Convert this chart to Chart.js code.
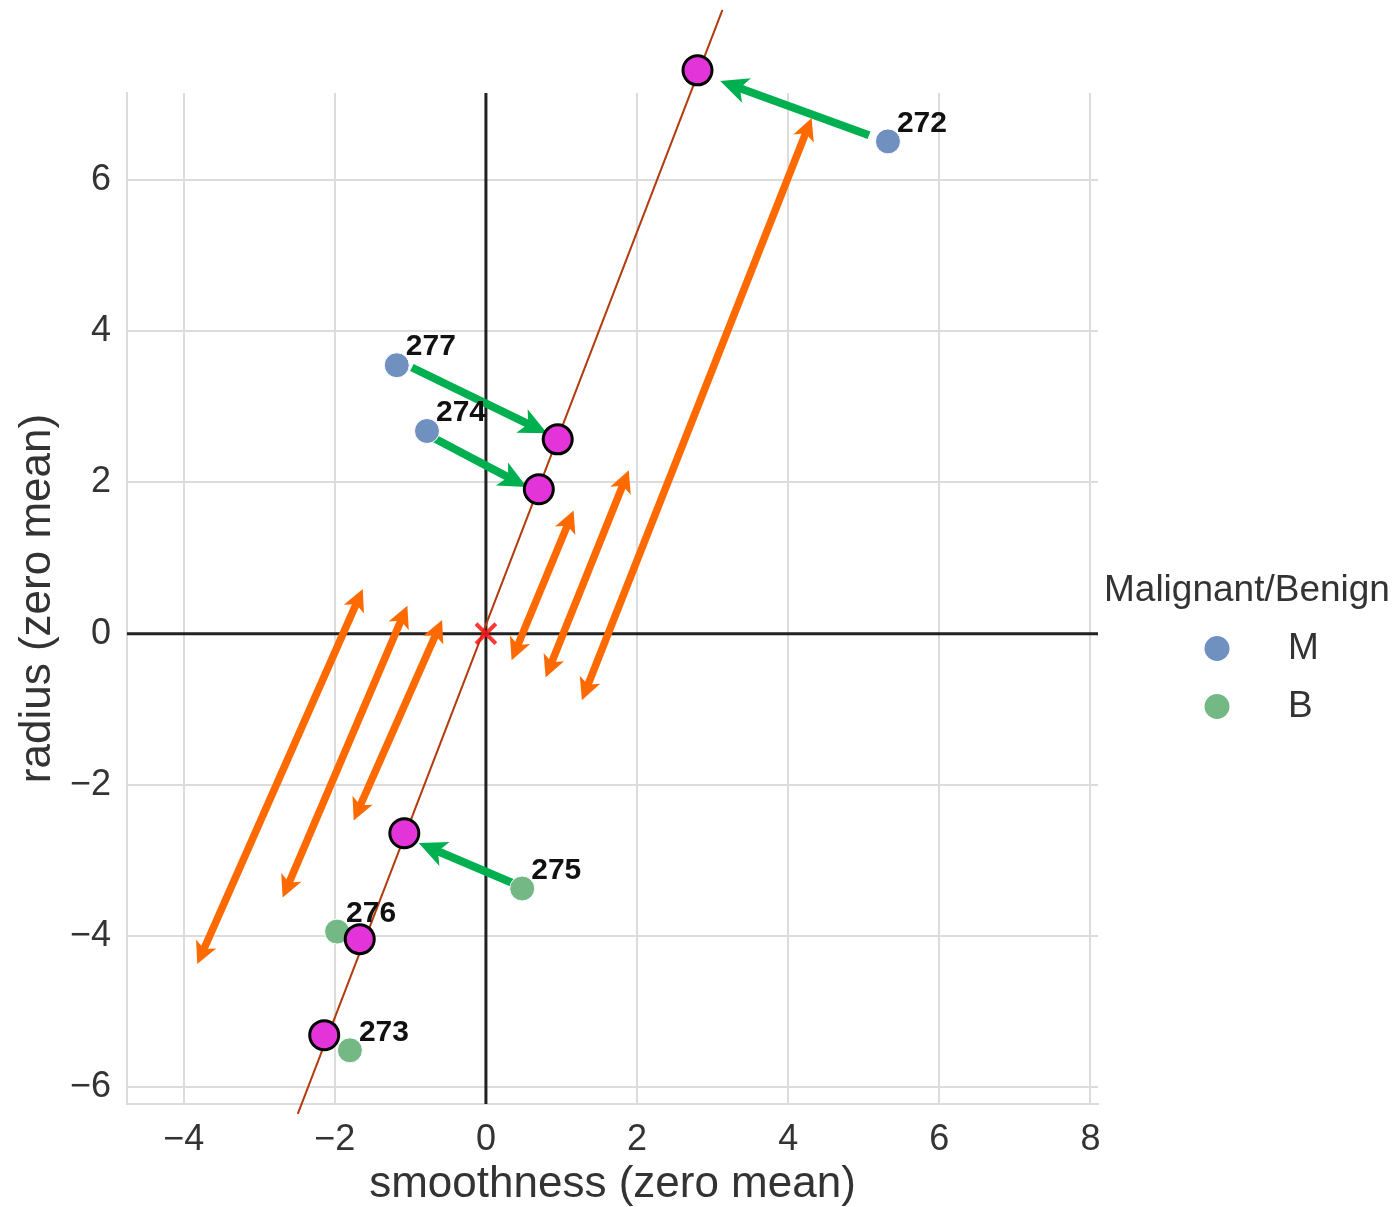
<!DOCTYPE html>
<html>
<head>
<meta charset="utf-8">
<script src="https://cdn.jsdelivr.net/npm/chart.js@4.4.1/dist/chart.umd.min.js"></script>
<style>
  html, body { margin: 0; padding: 0; background: #fff; }
  #wrap { width: 1395px; height: 1207px; }
</style>
</head>
<body>
<div id="wrap"><canvas id="chart" width="1395" height="1207"></canvas></div>
<script>
// samples, zero-mean smoothness vs radius
const ids = [272, 273, 274, 275, 276, 277];
const diagnosis = ['M', 'B', 'M', 'B', 'B', 'M'];
const smoothX = [5.32, -1.80, -0.78, 0.48, -1.97, -1.18];
const radiusY = [6.51, -5.51, 2.68, -3.37, -3.94, 3.55];

// projections onto the principal line
const projX = [2.80, -2.14, 0.70, -1.08, -1.67, 0.95];
const projY = [7.45, -5.31, 1.91, -2.64, -4.04, 2.57];

// principal line ends
const lineX = [-2.49, 3.13];
const lineY = [-6.35, 8.25];

// green arrows (sample -> projection)
const moveFromX = [5.07, -0.98, -0.81, 0.36];
const moveFromY = [6.59, 3.52, 2.65, -3.30];
const moveToX = [3.10, 0.81, 0.54, -0.89];
const moveToY = [7.31, 2.65, 1.94, -2.77];

// orange double arrows
const spreadFromX = [-3.82, -2.69, -1.75, 0.34, 0.79, 1.27];
const spreadFromY = [-4.37, -3.49, -2.47, -0.35, -0.58, -0.88];
const spreadToX = [-1.63, -1.04, -0.58, 1.16, 1.89, 4.31];
const spreadToY = [0.59, 0.37, 0.18, 1.63, 2.16, 6.82];

// axes
const xTicks = [-4, -2, 0, 2, 4, 6, 8];
const yTicks = [-6, -4, -2, 0, 2, 4, 6];
const xRange = [-4.75, 8.1];
const yRange = [-6.22, 7.15];

const FONT = '"Liberation Sans", Arial, sans-serif';
const colM = '#7090c0';
const colB = '#74b886';

const fmt = v => (v < 0 ? '\u2212' + Math.abs(v) : '' + v);

function drawArrow(ctx, x1, y1, x2, y2, color, width, headLen, headHalf, both) {
  const ang = Math.atan2(y2 - y1, x2 - x1);
  const head = (tx, ty, a) => {
    const c = Math.cos(a), s = Math.sin(a);
    ctx.beginPath();
    ctx.moveTo(tx, ty);
    ctx.lineTo(tx - headLen * c + headHalf * s, ty - headLen * s - headHalf * c);
    ctx.lineTo(tx - headLen * 0.75 * c, ty - headLen * 0.75 * s);
    ctx.lineTo(tx - headLen * c - headHalf * s, ty - headLen * s + headHalf * c);
    ctx.closePath();
    ctx.fill();
  };
  const cs = Math.cos(ang), sn = Math.sin(ang);
  const sx = both ? x1 + headLen * 0.7 * cs : x1;
  const sy = both ? y1 + headLen * 0.7 * sn : y1;
  ctx.save();
  ctx.strokeStyle = color;
  ctx.fillStyle = color;
  ctx.lineWidth = width;
  ctx.beginPath();
  ctx.moveTo(sx, sy);
  ctx.lineTo(x2 - headLen * 0.7 * cs, y2 - headLen * 0.7 * sn);
  ctx.stroke();
  head(x2, y2, ang);
  if (both) head(x1, y1, ang + Math.PI);
  ctx.restore();
}

const underlay = {
  id: 'underlay',
  beforeDatasetsDraw(chart) {
    const { ctx, chartArea: ca, scales: { x, y } } = chart;
    // zero lines
    ctx.save();
    ctx.strokeStyle = '#222';
    ctx.lineWidth = 3;
    ctx.beginPath();
    ctx.moveTo(ca.left, y.getPixelForValue(0));
    ctx.lineTo(ca.right, y.getPixelForValue(0));
    ctx.moveTo(x.getPixelForValue(0), ca.top);
    ctx.lineTo(x.getPixelForValue(0), ca.bottom);
    ctx.stroke();
    ctx.restore();

    spreadFromX.forEach((v, i) => {
      drawArrow(ctx,
        x.getPixelForValue(v), y.getPixelForValue(spreadFromY[i]),
        x.getPixelForValue(spreadToX[i]), y.getPixelForValue(spreadToY[i]),
        '#ff6a00', 7.5, 22, 11, true);
    });
    moveFromX.forEach((v, i) => {
      drawArrow(ctx,
        x.getPixelForValue(v), y.getPixelForValue(moveFromY[i]),
        x.getPixelForValue(moveToX[i]), y.getPixelForValue(moveToY[i]),
        '#00b050', 8, 28, 13, false);
    });
  }
};

const overlay = {
  id: 'overlay',
  afterDatasetsDraw(chart) {
    const { ctx, chartArea: ca, scales: { x, y } } = chart;

    // projected points that fall above the plot area
    chart.getDatasetMeta(1).data.forEach(el => {
      if (el.y < ca.top || el.y > ca.bottom) el.draw(ctx);
    });

    ctx.save();
    ctx.fillStyle = '#111';
    ctx.font = 'bold 30px ' + FONT;
    ctx.textBaseline = 'middle';
    ctx.textAlign = 'left';
    ids.forEach((id, i) => {
      ctx.fillText(String(id), x.getPixelForValue(smoothX[i]) + 9, y.getPixelForValue(radiusY[i]) - 18);
    });

    // legend
    const lx = ca.right + 6;
    const cy = (ca.top + ca.bottom) / 2;
    ctx.fillStyle = '#333';
    ctx.font = '37px ' + FONT;
    ctx.fillText('Malignant/Benign', lx, cy - 8);
    [['M', colM], ['B', colB]].forEach(([name, col], k) => {
      const yy = cy + 50 + k * 58;
      ctx.beginPath();
      ctx.arc(lx + 113, yy, 12.5, 0, Math.PI * 2);
      ctx.fillStyle = col;
      ctx.fill();
      ctx.fillStyle = '#333';
      ctx.fillText(name, lx + 184, yy);
    });
    ctx.restore();
  }
};

const pick = key => ids.map((id, i) => ({ x: smoothX[i], y: radiusY[i], d: diagnosis[i] }))
  .filter(p => p.d === key);

new Chart(document.getElementById('chart'), {
  type: 'scatter',
  data: {
    datasets: [
      {
        label: 'origin',
        data: [{ x: 0, y: 0 }],
        pointStyle: 'crossRot',
        pointRadius: 14,
        borderColor: 'rgba(255, 20, 20, 0.85)',
        borderWidth: 4
      },
      {
        label: 'projection',
        data: projX.map((v, i) => ({ x: v, y: projY[i] })),
        pointRadius: 14.5,
        backgroundColor: '#e334d9',
        borderColor: '#000',
        borderWidth: 3,
        clip: false
      },
      {
        label: 'M',
        data: pick('M'),
        pointRadius: 12.5,
        backgroundColor: colM,
        borderColor: '#fff',
        borderWidth: 1
      },
      {
        label: 'B',
        data: pick('B'),
        pointRadius: 12.5,
        backgroundColor: colB,
        borderColor: '#fff',
        borderWidth: 1
      },
      {
        label: 'line',
        data: lineX.map((v, i) => ({ x: v, y: lineY[i] })),
        showLine: true,
        pointRadius: 0,
        borderColor: '#b23a0c',
        borderWidth: 2,
        clip: false
      }
    ]
  },
  options: {
    responsive: false,
    animation: false,
    events: [],
    layout: { padding: { top: 93, right: 297, bottom: 0, left: 0 } },
    plugins: { legend: { display: false }, tooltip: { enabled: false } },
    scales: {
      x: {
        type: 'linear',
        min: xRange[0],
        max: xRange[1],
        afterBuildTicks: s => { s.ticks = xTicks.map(v => ({ value: v })); },
        afterFit: s => { s.height = 103; },
        grid: { color: '#dcdcdc', lineWidth: 2, drawTicks: false },
        border: { color: '#dcdcdc', width: 2 },
        ticks: { padding: 14, color: '#333', font: { family: FONT, size: 36 }, callback: v => fmt(v) },
        title: {
          display: true, text: 'smoothness (zero mean)', color: '#333',
          font: { family: FONT, size: 44, lineHeight: 1 }, padding: { top: 0, bottom: 0 }
        }
      },
      y: {
        type: 'linear',
        min: yRange[0],
        max: yRange[1],
        afterBuildTicks: s => { s.ticks = yTicks.map(v => ({ value: v })); },
        afterFit: s => { s.width = 127; },
        grid: { color: '#dcdcdc', lineWidth: 2, drawTicks: false },
        border: { color: '#dcdcdc', width: 2 },
        ticks: { padding: 16, color: '#333', font: { family: FONT, size: 36 }, callback: v => fmt(v) },
        title: {
          display: true, text: 'radius (zero mean)', color: '#333',
          font: { family: FONT, size: 44, lineHeight: 1 }, padding: { top: 16, bottom: 0 }
        }
      }
    }
  },
  plugins: [underlay, overlay]
});
</script>
</body>
</html>
